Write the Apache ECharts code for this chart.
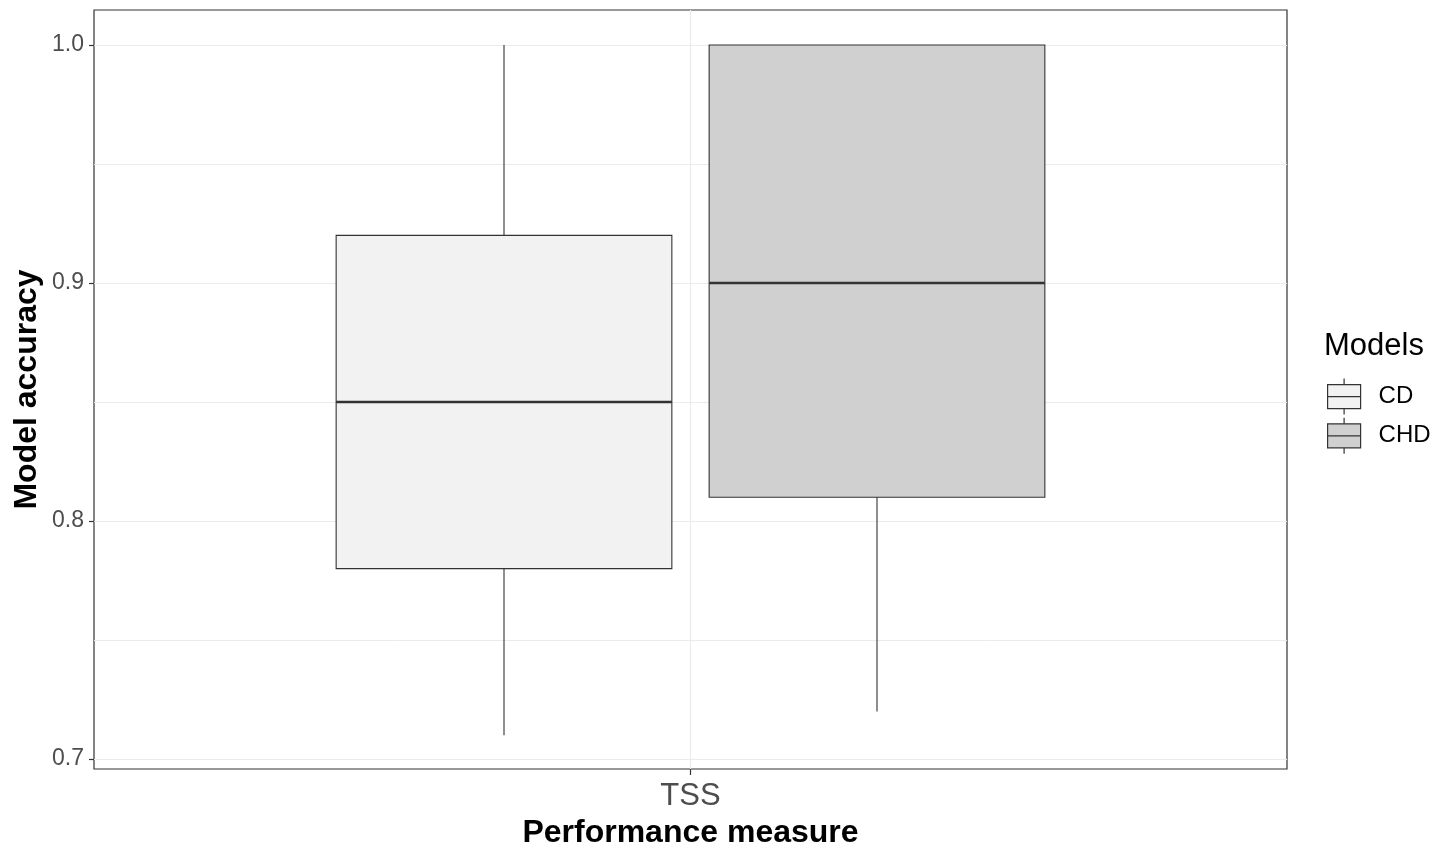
<!DOCTYPE html>
<html><head><meta charset="utf-8">
<script src="https://cdn.jsdelivr.net/npm/echarts@6/dist/echarts.min.js"></script>
<style>html,body{margin:0;padding:0;background:#fff}#c{width:1446px;height:847px}</style>
</head><body><div id="c"></div>
<script>
// ---- data ----
const measureCategories = ['', 'TSS', ''];
const models = ['CD', 'CHD'];
// [min, q1, median, q3, max]
const cdStats = [0.71, 0.78, 0.85, 0.92, 1.00];
const chdStats = [0.72, 0.81, 0.90, 1.00, 1.00];
const yTickMin = 0.7;
const yTickMax = 1.0;
const yTickStep = 0.1;
const fillColors = ['#f2f2f2', '#d0d0d0'];

const FONT = 'Liberation Sans, Arial, sans-serif';
const onlyCenter = (i) => i === 1;

function renderBox(params, api) {
  const x = api.value(0);
  const pMin = api.coord([x, api.value(1)]);
  const pQ1 = api.coord([x, api.value(2)]);
  const pMed = api.coord([x, api.value(3)]);
  const pQ3 = api.coord([x, api.value(4)]);
  const pMax = api.coord([x, api.value(5)]);
  const band = api.size([1, 0])[0];
  const half = band * 0.45;
  const cx = pMed[0];
  const fill = api.visual('color');
  return {
    type: 'group',
    children: [
      { type: 'line', shape: { x1: cx, y1: pMax[1], x2: cx, y2: pQ3[1] }, style: { stroke: '#333', lineWidth: 1.1 } },
      { type: 'line', shape: { x1: cx, y1: pQ1[1], x2: cx, y2: pMin[1] }, style: { stroke: '#333', lineWidth: 1.1 } },
      { type: 'rect', shape: { x: cx - half, y: pQ3[1], width: 2 * half, height: pQ1[1] - pQ3[1] }, style: { fill: fill, stroke: '#333', lineWidth: 1.1 } },
      { type: 'line', shape: { x1: cx - half, y1: pMed[1], x2: cx + half, y2: pMed[1] }, style: { stroke: '#333', lineWidth: 2.4 } }
    ]
  };
}

const legendIcon = 'path://M16.5,0L16.5,6M0,6L33,6L33,30L0,30ZM0,18L33,18M16.5,30L16.5,36';

const chart = echarts.init(document.getElementById('c'), null, { renderer: 'canvas' });
chart.setOption({
  animation: false,
  backgroundColor: '#fff',
  textStyle: { fontFamily: FONT },
  title: {
    text: 'Models', left: 1319, top: 326,
    textStyle: { fontFamily: FONT, fontSize: 31, fontWeight: 'normal', color: '#000' }
  },
  legend: {
    orient: 'vertical', left: 1327, top: 378, padding: 0,
    itemWidth: 33, itemHeight: 36, itemGap: 2,
    textStyle: { fontFamily: FONT, fontSize: 24, color: '#000', padding: [3, 0, 0, 13] },
    data: [
      { name: models[0], icon: legendIcon, itemStyle: { color: fillColors[0], borderColor: '#333', borderWidth: 1.2 } },
      { name: models[1], icon: legendIcon, itemStyle: { color: fillColors[1], borderColor: '#333', borderWidth: 1.2 } }
    ]
  },
  grid: [
    { left: 94, right: 159, top: 10, bottom: 78, show: true, borderColor: '#333', borderWidth: 1.2, backgroundColor: 'transparent', outerBoundsMode: 'none', containLabel: false },
    { left: 94, right: 159, top: 45, bottom: 88, show: false, outerBoundsMode: 'none', containLabel: false },
    { left: 317.5, right: 382.5, top: 45, bottom: 88, show: false, outerBoundsMode: 'none', containLabel: false }
  ],
  xAxis: [
    {
      gridIndex: 0, type: 'category', data: measureCategories, boundaryGap: false,
      name: 'Performance measure', nameLocation: 'middle', nameGap: 44,
      nameTextStyle: { fontFamily: FONT, fontSize: 32, fontWeight: 'bold', color: '#000' },
      axisLine: { show: false },
      axisTick: { show: true, interval: onlyCenter, length: 6, lineStyle: { color: '#333', width: 1.2 } },
      axisLabel: { interval: onlyCenter, fontFamily: FONT, fontSize: 31, color: '#4d4d4d', margin: 12 },
      splitLine: { show: true, interval: onlyCenter, lineStyle: { color: '#ebebeb', width: 1.2 } }
    },
    { gridIndex: 1, type: 'value', show: false, min: 0, max: 1 },
    { gridIndex: 2, type: 'category', data: models, show: false }
  ],
  yAxis: [
    {
      gridIndex: 0, type: 'value', min: 0, max: 1,
      name: 'Model accuracy', nameLocation: 'middle', nameGap: 51,
      nameTextStyle: { fontFamily: FONT, fontSize: 32, fontWeight: 'bold', color: '#000' },
      axisLine: { show: false }, axisTick: { show: false }, axisLabel: { show: false }, splitLine: { show: false }
    },
    {
      gridIndex: 1, type: 'value', min: yTickMin, max: yTickMax, interval: yTickStep,
      axisLine: { show: false },
      axisTick: { show: true, length: 5, lineStyle: { color: '#333', width: 1.2 } },
      axisLabel: { fontFamily: FONT, fontSize: 23, color: '#4d4d4d', margin: 10, formatter: (v) => v.toFixed(1) },
      splitLine: { show: true, lineStyle: { color: '#ebebeb', width: 1.2 } },
      minorTick: { show: false, splitNumber: 2 },
      minorSplitLine: { show: true, lineStyle: { color: '#ebebeb', width: 1 } }
    },
    { gridIndex: 2, type: 'value', min: yTickMin, max: yTickMax, show: false }
  ],
  series: [
    {
      name: models[0], type: 'custom', xAxisIndex: 2, yAxisIndex: 2,
      itemStyle: { color: fillColors[0] },
      encode: { x: 0, y: [1, 2, 3, 4, 5] },
      renderItem: renderBox,
      data: [[models[0]].concat(cdStats)]
    },
    {
      name: models[1], type: 'custom', xAxisIndex: 2, yAxisIndex: 2,
      itemStyle: { color: fillColors[1] },
      encode: { x: 0, y: [1, 2, 3, 4, 5] },
      renderItem: renderBox,
      data: [[models[1]].concat(chdStats)]
    }
  ]
});
</script></body></html>
